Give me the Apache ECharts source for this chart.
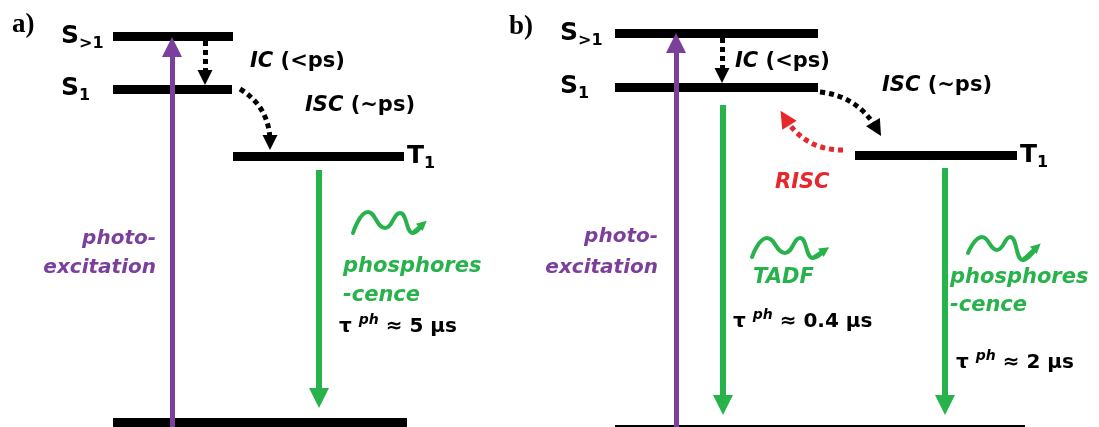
<!DOCTYPE html>
<html><head><meta charset="utf-8">
<script src="https://cdn.jsdelivr.net/npm/echarts@6/dist/echarts.min.js"></script>
<style>html,body{margin:0;padding:0;background:#fff}#c{width:1099px;height:427px}</style>
</head><body><div id="c"></div>
<script>
// ---- diagram data (pixel-like coordinates of the two Jablonski diagrams) ----
const levelLabels = ['S>1', 'S1', 'T1', 'S0', 'S>1', 'S1', 'T1', 'S0'];
const levelStart  = [113, 113, 233, 113, 615, 615, 855, 615];
const levelEnd    = [233, 232, 404, 407, 818, 818, 1017, 1025];
const levelEnergy = [36, 89, 156, 422.5, 33, 87, 155, 429.5];

const excitationArrows = [[172, 427, 172, 47], [676, 427, 676, 43]];
const emissionArrows   = [[319, 170, 319, 398], [723, 105, 723, 405], [945, 168, 945, 405]];
const icArrows         = [[205, 41, 205, 77.5], [722, 38, 722, 75.5]];
const iscArrowA        = [240, 89, 270, 142.5];
const iscArrowB        = [820, 92, 877, 129];
const riscArrow        = [843, 150, 785, 118];

const waveA    = [[353, 233], [368, 212], [385, 228], [400, 213], [413, 233], [423, 224]];
const waveTADF = [[752, 257], [767, 238], [785, 253], [800, 238], [813, 258], [825, 250]];
const wavePhos = [[968, 253], [982, 237], [997, 250], [1010, 237], [1023, 260], [1037, 247]];

const lifetimes = ['5', '0.4', '2'];

// ---- styles ----
const PURPLE = '#7b3f9c', GREEN = '#27b24b', RED = '#e8262b', BLACK = '#000';
const FONT = 'DejaVu Sans';

const rich = {
  pnl:  { fontFamily: 'Liberation Serif', fontWeight: 'bold', fontSize: 27, color: BLACK, opacity: 1 },
  lvl:  { fontFamily: FONT, fontWeight: 'bold', fontSize: 25, lineHeight: 32, color: BLACK },
  sub:  { fontFamily: FONT, fontWeight: 'bold', fontSize: 16, lineHeight: 15, verticalAlign: 'bottom', color: BLACK },
  pi:   { fontFamily: FONT, fontWeight: 'bold', fontStyle: 'italic', fontSize: 21, color: BLACK },
  pn:   { fontFamily: FONT, fontWeight: 'bold', fontSize: 21, color: BLACK },
  pur:  { fontFamily: FONT, fontWeight: 'bold', fontStyle: 'italic', fontSize: 20, color: PURPLE },
  grn:  { fontFamily: FONT, fontWeight: 'bold', fontStyle: 'italic', fontSize: 21, color: GREEN },
  red:  { fontFamily: FONT, fontWeight: 'bold', fontStyle: 'italic', fontSize: 21, color: RED },
  tau:  { fontFamily: FONT, fontWeight: 'bold', fontSize: 20, lineHeight: 28, color: BLACK },
  sup:  { fontFamily: FONT, fontWeight: 'bold', fontStyle: 'italic', fontSize: 14, lineHeight: 14, verticalAlign: 'top', color: BLACK }
};

function lvlText(name) {
  const base = name.charAt(0), sub = name.slice(1);
  return '{lvl|' + base + '}{sub|' + sub + '}';
}
function tauText(v) { return '{tau|τ }{sup|ph}{tau| ≈ ' + v + ' µs}'; }

// text annotations: [rich text, x, y, side]  side 'l' = text starts at x, 'r' = text ends at x
const texts = [
  ['{pnl|a)}', 12, 25, 'l'],
  ['{pnl|b)}', 509, 27, 'l'],
  [lvlText(levelLabels[0]), 61, levelEnergy[0], 'l'],
  [lvlText(levelLabels[1]), 61, levelEnergy[1] - 1, 'l'],
  [lvlText(levelLabels[2]), 407, levelEnergy[2], 'l'],
  [lvlText(levelLabels[4]), 560, levelEnergy[4], 'l'],
  [lvlText(levelLabels[5]), 560, levelEnergy[5] - 1, 'l'],
  [lvlText(levelLabels[6]), 1020, levelEnergy[6], 'l'],
  ['{pi|IC}{pn| (<ps)}', 250, 62, 'l'],
  ['{pi|ISC}{pn| (~ps)}', 305, 106, 'l'],
  ['{pi|IC}{pn| (<ps)}', 735, 62, 'l'],
  ['{pi|ISC}{pn| (~ps)}', 882, 86, 'l'],
  ['{red|RISC}', 775, 183, 'l'],
  ['{pur|photo-}', 156, 239, 'r'],
  ['{pur|excitation}', 156, 268, 'r'],
  ['{pur|photo-}', 658, 237, 'r'],
  ['{pur|excitation}', 658, 268, 'r'],
  ['{grn|phosphores}', 343, 267, 'l'],
  ['{grn|-cence}', 343, 296, 'l'],
  ['{grn|TADF}', 753, 278, 'l'],
  ['{grn|phosphores}', 950, 278, 'l'],
  ['{grn|-cence}', 950, 306, 'l'],
  [tauText(lifetimes[0]), 339, 327, 'l'],
  [tauText(lifetimes[1]), 733, 322, 'l'],
  [tauText(lifetimes[2]), 956, 363, 'l']
];

function seg(a) { return { coords: [[a[0], a[1]], [a[2], a[3]]] }; }
function waveHead(w) { const n = w.length; return { coords: [w[n - 2], w[n - 1]] }; }

const series = [];
// energy levels
series.push({
  type: 'lines', coordinateSystem: 'cartesian2d', silent: true,
  symbol: 'none',
  lineStyle: { color: BLACK, width: 9, opacity: 1, cap: 'butt' },
  data: levelLabels.map((n, i) => ({ name: n, coords: [[levelStart[i], levelEnergy[i]], [levelEnd[i], levelEnergy[i]]] }))
});
// internal conversion (dotted black)
series.push({
  type: 'lines', coordinateSystem: 'cartesian2d', silent: true,
  symbol: ['none', 'triangle'], symbolSize: 15,
  lineStyle: { color: BLACK, width: 5, opacity: 1, type: [5, 4], cap: 'butt' },
  data: icArrows.map(seg)
});
// ISC curved dotted arrows
series.push({
  type: 'lines', coordinateSystem: 'cartesian2d', silent: true,
  symbol: ['none', 'triangle'], symbolSize: 15,
  lineStyle: { color: BLACK, width: 5, opacity: 1, type: [5, 4], curveness: 0.28 },
  data: [seg(iscArrowA)]
});
series.push({
  type: 'lines', coordinateSystem: 'cartesian2d', silent: true,
  symbol: ['none', 'triangle'], symbolSize: 16,
  lineStyle: { color: BLACK, width: 5, opacity: 1, type: [5, 4], curveness: 0.25 },
  data: [seg(iscArrowB)]
});
// RISC
series.push({
  type: 'lines', coordinateSystem: 'cartesian2d', silent: true,
  symbol: ['none', 'triangle'], symbolSize: 17,
  lineStyle: { color: RED, width: 5, opacity: 1, type: [5, 4], curveness: 0.28 },
  data: [seg(riscArrow)]
});
// emission arrows
series.push({
  type: 'lines', coordinateSystem: 'cartesian2d', silent: true,
  symbol: ['none', 'triangle'], symbolSize: 20,
  lineStyle: { color: GREEN, width: 6, opacity: 1 },
  data: emissionArrows.map(seg)
});
// photo-excitation arrows
series.push({
  type: 'lines', coordinateSystem: 'cartesian2d', silent: true,
  symbol: ['none', 'triangle'], symbolSize: 20,
  lineStyle: { color: PURPLE, width: 5, opacity: 1 },
  data: excitationArrows.map(seg)
});
// photon squiggles
[waveA, waveTADF, wavePhos].forEach(w => {
  series.push({
    type: 'line', smooth: 0.5, symbol: 'none', silent: true,
    lineStyle: { color: GREEN, width: 4, cap: 'round', join: 'round' },
    data: w
  });
});
series.push({
  type: 'lines', coordinateSystem: 'cartesian2d', silent: true,
  symbol: ['none', 'triangle'], symbolSize: 10,
  lineStyle: { color: GREEN, width: 4, opacity: 1 },
  data: [waveHead(waveA), waveHead(waveTADF), waveHead(wavePhos)]
});
// texts
series.push({
  type: 'scatter', symbolSize: 0, silent: true,
  itemStyle: { color: 'rgba(0,0,0,0)', opacity: 1 },
  label: {
    show: true, distance: 0, opacity: 1,
    formatter: p => p.data.txt,
    rich: rich
  },
  data: texts.map(t => ({
    value: [t[1], t[2]], txt: t[0],
    label: { position: t[3] === 'l' ? 'right' : 'left' }
  }))
});

const chart = echarts.init(document.getElementById('c'), null, { renderer: 'canvas' });
chart.setOption({
  animation: false,
  backgroundColor: '#fff',
  grid: { left: 0, right: 0, top: 0, bottom: 0 },
  xAxis: { type: 'value', min: 0, max: 1099, show: false },
  yAxis: { type: 'value', min: 0, max: 427, inverse: true, show: false },
  series: series
});
</script>
</body></html>
